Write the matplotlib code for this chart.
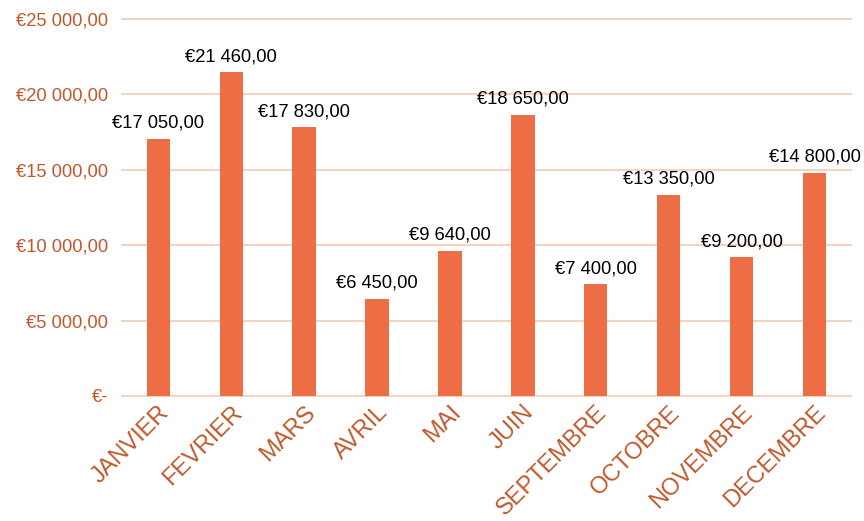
import matplotlib
matplotlib.use("Agg")
import matplotlib.pyplot as plt
import numpy as np

plt.rcParams['font.family'] = ['Liberation Sans', 'DejaVu Sans']

months = ['JANVIER', 'FEVRIER', 'MARS', 'AVRIL', 'MAI', 'JUIN',
          'SEPTEMBRE', 'OCTOBRE', 'NOVEMBRE', 'DECEMBRE']
sales = [17050, 21460, 17830, 6450, 9640, 18650, 7400, 13350, 9200, 14800]
yticks = [0, 5000, 10000, 15000, 20000, 25000]

bar_col = '#ED6D45'
txt_col = '#C0582B'
grid_col = '#F4D3C2'


def euro(v):
    if v == 0:
        return '€-'
    s = f"{v:,.2f}".replace(',', ' ').replace('.', ',')
    return '€' + s


fig = plt.figure(figsize=(8.64, 5.21), dpi=100)
ax = fig.add_axes([0.141, 0.240, 0.844, 0.7235])

x = np.arange(len(months))
bars = ax.bar(x, sales, width=0.32, color=bar_col, zorder=3)
ax.bar_label(bars, labels=[euro(v) for v in sales], padding=5,
             fontsize=13.2, color='black')

ax.set_ylim(0, 25000)
ax.set_xlim(-0.5, len(months) - 0.5)
ax.set_yticks(yticks)
ax.set_yticklabels([euro(v) for v in yticks], fontsize=13.2, color=txt_col)
ax.set_xticks(x)
ax.set_xticklabels(months, rotation=45, ha='right', rotation_mode='anchor',
                   fontsize=17, color=txt_col)
ax.tick_params(length=0, axis='y', pad=10)
ax.tick_params(length=0, axis='x', pad=4)

ax.grid(axis='y', color=grid_col, linewidth=1.5, zorder=0)
for gl in ax.get_ygridlines():
    gl.set_clip_on(False)
for sp in ax.spines.values():
    sp.set_visible(False)

fig.savefig('out.png', dpi=100)
